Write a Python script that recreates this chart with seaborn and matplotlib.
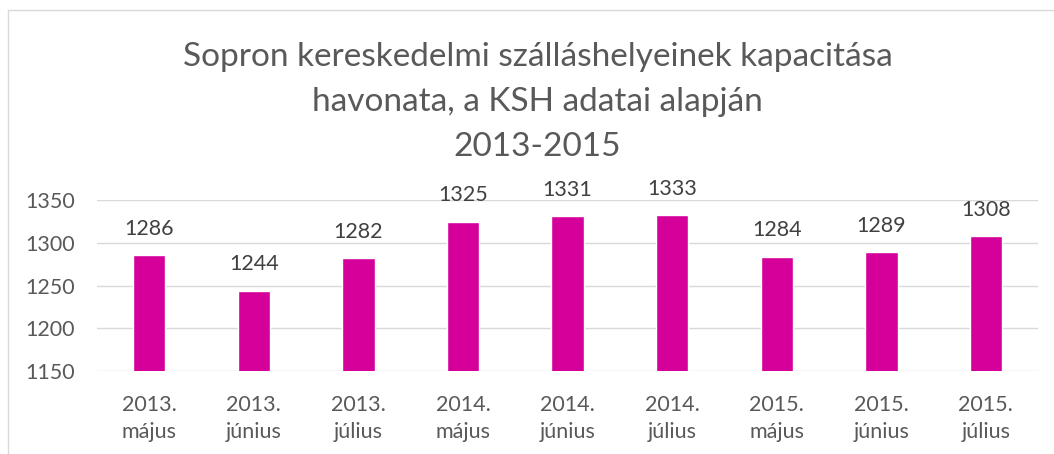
import matplotlib
matplotlib.use('Agg')
import matplotlib.pyplot as plt
import seaborn as sns
import pandas as pd

honapok = ['2013.\nmájus', '2013.\njúnius', '2013.\njúlius',
           '2014.\nmájus', '2014.\njúnius', '2014.\njúlius',
           '2015.\nmájus', '2015.\njúnius', '2015.\njúlius']
kapacitas = [1286, 1244, 1282, 1325, 1331, 1333, 1284, 1289, 1308]
y_ticks = [1150, 1200, 1250, 1300, 1350]

df = pd.DataFrame({'honap': honapok, 'kapacitas': kapacitas})

sns.set_style('white')
plt.rcParams['font.family'] = ['Lato', 'DejaVu Sans']
szurke = '#595959'

fig = plt.figure(figsize=(10.54, 4.54), dpi=100)
ax = fig.add_axes([0.092, 0.183, 0.893, 0.376])

sns.barplot(data=df, x='honap', y='kapacitas', color='#D5009A', width=0.31,
            saturation=1, ax=ax, zorder=3)

ax.set_ylim(1150, 1350)
ax.set_yticks(y_ticks)
ax.grid(axis='y', color='#D9D9D9', linewidth=1, zorder=0)
for s in ax.spines.values():
    s.set_visible(False)
ax.tick_params(axis='both', length=0, labelsize=15.5, colors=szurke)
ax.tick_params(axis='y', pad=16)
ax.tick_params(axis='x', pad=17)
for t in ax.get_xticklabels():
    t.set_linespacing(1.45)
ax.set_xlabel('')
ax.set_ylabel('')

for i, v in enumerate(kapacitas):
    ax.text(i, v + 19, str(v), ha='center', va='bottom', fontsize=15.5, color='#404040')

fig.text(0.51, 0.775, 'Sopron kereskedelmi szálláshelyeinek kapacitása\nhavonata, a KSH adatai alapján\n2013-2015',
         ha='center', va='center', fontsize=24, color=szurke, linespacing=1.62)

# keret
fig.add_artist(plt.Line2D([0.008, 0.008], [0, 0.978], color='#D9D9D9', linewidth=1))
fig.add_artist(plt.Line2D([0.008, 1.0], [0.978, 0.978], color='#D9D9D9', linewidth=1))

fig.savefig('out.png', dpi=100)
